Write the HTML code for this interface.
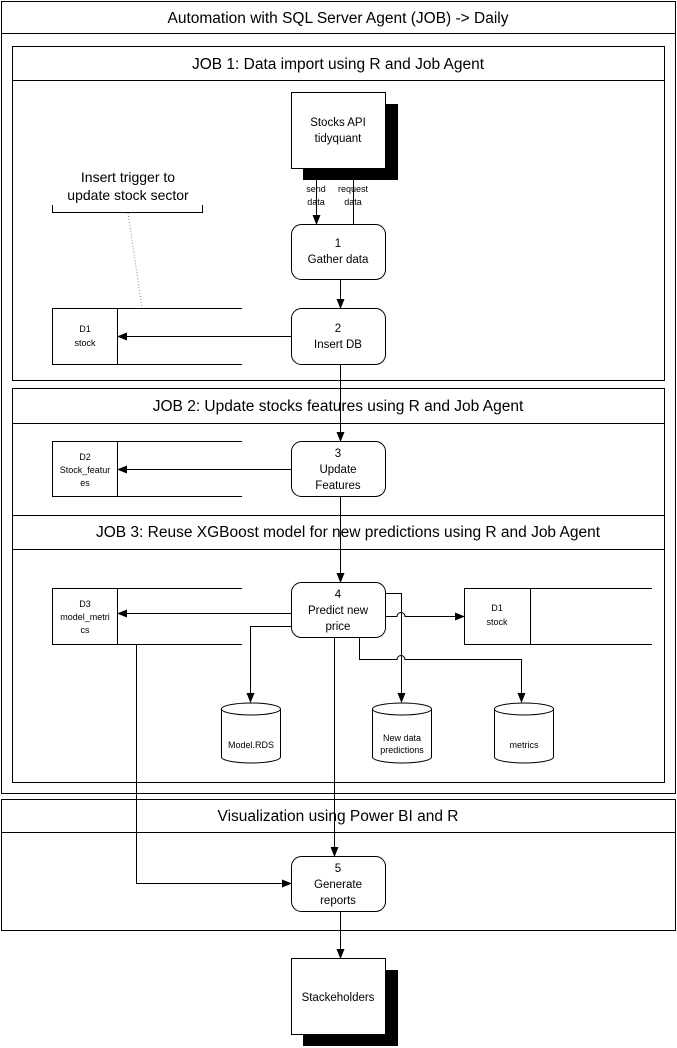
<!DOCTYPE html>
<html><head><meta charset="utf-8"><style>
html,body{margin:0;padding:0;background:#fff;}
svg{display:block;font-family:"Liberation Sans",sans-serif;}
text{fill:#000;}
</style></head><body>
<svg width="677" height="1048" viewBox="0 0 677 1048" xmlns="http://www.w3.org/2000/svg">
<defs>
<marker id="a" markerWidth="10" markerHeight="10" refX="9" refY="5" orient="auto" markerUnits="userSpaceOnUse">
<path d="M0,1 L10,5 L0,9 z" fill="#000"/></marker>
</defs>
<g fill="none" stroke="#000" stroke-width="1">
<rect x="1.5" y="1.5" width="674" height="792"/>
<line x1="1.5" y1="33.5" x2="675.5" y2="33.5"/>
<rect x="12.5" y="46.5" width="652" height="334"/>
<line x1="12.5" y1="80.5" x2="664.5" y2="80.5"/>
<rect x="12.5" y="388.5" width="652" height="127"/>
<line x1="12.5" y1="423.5" x2="664.5" y2="423.5"/>
<rect x="12.5" y="515.5" width="652" height="267"/>
<line x1="12.5" y1="549.5" x2="664.5" y2="549.5"/>
<rect x="1.5" y="799.5" width="674" height="131"/>
<line x1="1.5" y1="832.5" x2="675.5" y2="832.5"/>
</g>
<rect x="303" y="104" width="95" height="76" fill="#000"/>
<rect x="291.5" y="92.5" width="94" height="76" fill="#fff" stroke="#000"/>
<rect x="303" y="970" width="95" height="76" fill="#000"/>
<rect x="291.5" y="958.5" width="94" height="76" fill="#fff" stroke="#000"/>
<g fill="#fff" stroke="#000">
<rect x="291.5" y="224.5" width="94" height="55" rx="10"/>
<rect x="291.5" y="308.5" width="94" height="56" rx="10"/>
<rect x="291.5" y="441.5" width="94" height="55" rx="10"/>
<rect x="291.5" y="582.5" width="94" height="55" rx="10"/>
<rect x="291.5" y="856.5" width="94" height="55" rx="10"/>
</g>
<g fill="none" stroke="#000">
<path d="M242,308.5 H52.5 V364.5 H242 M117.5,308.5 V364.5"/>
<path d="M242,441.5 H52.5 V496.5 H242 M117.5,441.5 V496.5"/>
<path d="M242,588.5 H52.5 V644.5 H242 M117.5,588.5 V644.5"/>
<path d="M652,588.5 H464.5 V644.5 H652 M530.5,588.5 V644.5"/>
<path d="M52.5,205 V212.5 H202.5 V205"/>
<line x1="128" y1="213" x2="142" y2="308" stroke="#888" stroke-dasharray="1,2"/>
<path d="M221.5,709 V757 A29.5,6 0 0 0 280.5,757 V709 A29.5,6 0 0 0 221.5,709 A29.5,6 0 0 0 280.5,709" fill="#fff"/>
<path d="M372.5,709 V757 A29.5,6 0 0 0 431.5,757 V709 A29.5,6 0 0 0 372.5,709 A29.5,6 0 0 0 431.5,709" fill="#fff"/>
<path d="M494.5,709 V757 A29.5,6 0 0 0 553.5,757 V709 A29.5,6 0 0 0 494.5,709 A29.5,6 0 0 0 553.5,709" fill="#fff"/>
<line x1="316.5" y1="180" x2="316.5" y2="224" marker-end="url(#a)"/>
<line x1="353.5" y1="180" x2="353.5" y2="224"/>
<line x1="340.5" y1="279" x2="340.5" y2="308" marker-end="url(#a)"/>
<line x1="291" y1="336.5" x2="118" y2="336.5" marker-end="url(#a)"/>
<line x1="340.5" y1="364" x2="340.5" y2="441" marker-end="url(#a)"/>
<line x1="291" y1="469.5" x2="118" y2="469.5" marker-end="url(#a)"/>
<line x1="340.5" y1="496" x2="340.5" y2="582" marker-end="url(#a)"/>
<line x1="291" y1="613.5" x2="118" y2="613.5" marker-end="url(#a)"/>
<path d="M385,616.5 H397 A4,4 0 0 1 405,616.5 H464" marker-end="url(#a)"/>
<path d="M385,593.5 H401.5 V702" marker-end="url(#a)"/>
<path d="M359.5,637 V659.5 H397 A4,4 0 0 1 405,659.5 H521.5 V702" marker-end="url(#a)"/>
<path d="M291,626.5 H250.5 V702" marker-end="url(#a)"/>
<line x1="334.5" y1="637" x2="334.5" y2="856" marker-end="url(#a)"/>
<path d="M136.5,644 V883.5 H291" marker-end="url(#a)"/>
<line x1="340.5" y1="911" x2="340.5" y2="958" marker-end="url(#a)"/>
</g>
<g font-size="15.5" text-anchor="middle">
<text x="338" y="23">Automation with SQL Server Agent (JOB) -&gt; Daily</text>
<text x="338" y="69">JOB 1: Data import using R and Job Agent</text>
<text x="338" y="411">JOB 2: Update stocks features using R and  Job Agent</text>
<text x="348" y="537">JOB 3: Reuse XGBoost model for new predictions using R and  Job Agent</text>
<text x="338" y="821">Visualization using Power BI and R</text>
<text x="128" y="182" font-size="14">Insert trigger to</text>
<text x="128" y="200" font-size="14">update stock sector</text>
</g>
<g font-size="11.5" text-anchor="middle">
<text x="338" y="126">Stocks API</text>
<text x="338" y="142">tidyquant</text>
<text x="338" y="247">1</text><text x="338" y="263">Gather data</text>
<text x="338" y="332">2</text><text x="338" y="348">Insert DB</text>
<text x="338" y="457">3</text><text x="338" y="473">Update</text><text x="338" y="489">Features</text>
<text x="338" y="598">4</text><text x="338" y="614">Predict new</text><text x="338" y="630">price</text>
<text x="338" y="872">5</text><text x="338" y="888">Generate</text><text x="338" y="904">reports</text>
<text x="338" y="1001">Stackeholders</text>
</g>
<g font-size="9" text-anchor="middle">
<text x="316" y="192">send</text><text x="316" y="205">data</text>
<text x="353" y="192">request</text><text x="353" y="205">data</text>
<text x="85" y="332">D1</text><text x="85" y="346">stock</text>
<text x="85" y="460">D2</text><text x="85" y="473">Stock_featur</text><text x="85" y="486">es</text>
<text x="85" y="607">D3</text><text x="85" y="620">model_metri</text><text x="85" y="633">cs</text>
<text x="497" y="611">D1</text><text x="497" y="625">stock</text>
<text x="251" y="748">Model.RDS</text>
<text x="402" y="741">New data</text><text x="402" y="753">predictions</text>
<text x="524" y="748">metrics</text>
</g>
</svg>
</body></html>
